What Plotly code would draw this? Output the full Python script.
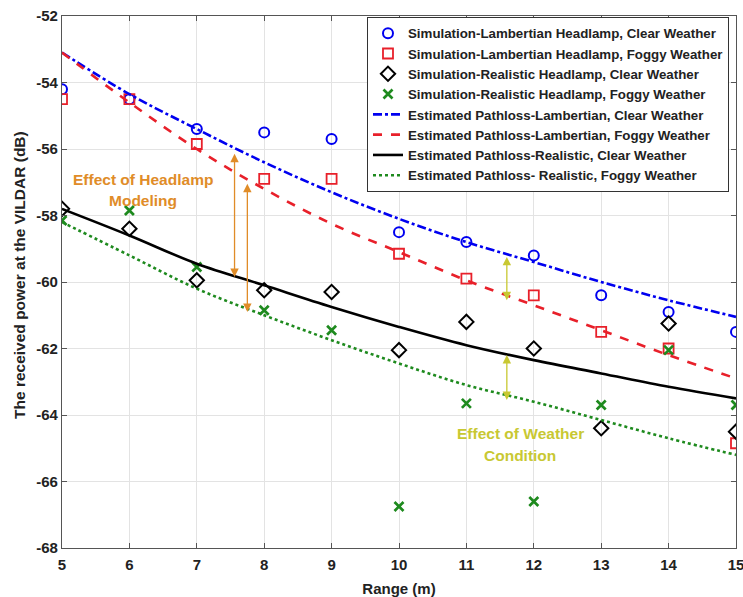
import plotly.graph_objects as go

rng = [5, 6, 7, 8, 9, 10, 11, 12, 13, 14, 15]

sim_lamb_clear = [-54.2, -54.5, -55.4, -55.5, -55.7, -58.5, -58.8, -59.2, -60.4, -60.9, -61.5]
sim_lamb_fog = [-54.5, -54.5, -55.85, -56.9, -56.9, -59.15, -59.9, -60.4, -61.5, -62.0, -64.85]
sim_real_clear = [-57.8, -58.4, -59.95, -60.25, -60.3, -62.05, -61.2, -62.0, -64.4, -61.25, -64.5]
sim_real_fog = [-58.15, -57.85, -59.55, -60.85, -61.45, -66.75, -63.65, -66.6, -63.7, -62.05, -63.7]

est_lamb_clear = [-53.1, -54.35, -55.4, -56.4, -57.3, -58.1, -58.8, -59.4, -60.0, -60.55, -61.05]
est_lamb_fog = [-53.1, -54.6, -56.0, -57.2, -58.25, -59.1, -59.95, -60.7, -61.45, -62.2, -62.9]
est_real_clear = [-57.8, -58.6, -59.45, -60.1, -60.75, -61.35, -61.9, -62.35, -62.75, -63.15, -63.5]
est_real_fog = [-58.2, -59.2, -60.2, -61.0, -61.75, -62.45, -63.1, -63.6, -64.15, -64.7, -65.2]

x_ticks = [5, 6, 7, 8, 9, 10, 11, 12, 13, 14, 15]
y_ticks = [-68, -66, -64, -62, -60, -58, -56, -54, -52]

FONT = "Liberation Sans, Arial, sans-serif"

fig = go.Figure()

fig.add_trace(go.Scatter(x=rng, y=sim_lamb_clear, mode="markers",
                         name="<b>Simulation-Lambertian Headlamp, Clear Weather</b>",
                         marker=dict(symbol="circle-open", size=10, color="#0000F0",
                                     line=dict(width=2, color="#0000F0"))))
fig.add_trace(go.Scatter(x=rng, y=sim_lamb_fog, mode="markers",
                         name="<b>Simulation-Lambertian Headlamp, Foggy Weather</b>",
                         marker=dict(symbol="square-open", size=10, color="#E8202A",
                                     line=dict(width=1.8, color="#E8202A"))))
fig.add_trace(go.Scatter(x=rng, y=sim_real_clear, mode="markers",
                         name="<b>Simulation-Realistic Headlamp, Clear Weather</b>",
                         marker=dict(symbol="diamond-open", size=11, color="black",
                                     line=dict(width=2, color="black"))))
fig.add_trace(go.Scatter(x=rng, y=sim_real_fog, mode="markers",
                         name="<b>Simulation-Realistic Headlamp, Foggy Weather</b>",
                         marker=dict(symbol="x-thin-open", size=9, color="#1E8A1E",
                                     line=dict(width=2.7, color="#1E8A1E"))))

fig.add_trace(go.Scatter(x=rng, y=est_lamb_clear, mode="lines", line_shape="spline",
                         name="<b>Estimated Pathloss-Lambertian, Clear Weather</b>",
                         line=dict(color="#0000F0", width=2.6, dash="dashdot")))
fig.add_trace(go.Scatter(x=rng, y=est_lamb_fog, mode="lines", line_shape="spline",
                         name="<b>Estimated Pathloss-Lambertian, Foggy Weather</b>",
                         line=dict(color="#E8202A", width=2.6, dash="dash")))
fig.add_trace(go.Scatter(x=rng, y=est_real_clear, mode="lines", line_shape="spline",
                         name="<b>Estimated Pathloss-Realistic, Clear Weather</b>",
                         line=dict(color="black", width=2.6)))
fig.add_trace(go.Scatter(x=rng, y=est_real_fog, mode="lines", line_shape="spline",
                         name="<b>Estimated Pathloss- Realistic, Foggy Weather</b>",
                         line=dict(color="#1E8A1E", width=2.6, dash="dot")))

orange = "#E08C28"
olive = "#C8C832"

arrows = [
    (7.56, -56.1, -59.85, orange),
    (7.75, -57.0, -60.9, orange),
    (11.6, -59.2, -60.55, olive),
    (11.6, -62.15, -63.55, olive),
]
for ax_, y0, y1, col in arrows:
    fig.add_annotation(x=ax_, y=y1, ax=ax_, ay=y0, xref="x", yref="y",
                       axref="x", ayref="y", text="", showarrow=True,
                       arrowhead=2, startarrowhead=2, arrowside="end+start",
                       arrowwidth=1.3, arrowsize=1.3, startarrowsize=1.3,
                       arrowcolor=col)

labels = [
    ("Effect of Headlamp", 6.2, -56.93, orange),
    ("Modeling", 6.2, -57.55, orange),
    ("Effect of Weather", 11.8, -64.55, olive),
    ("Condition", 11.8, -65.22, olive),
]
for txt, lx, ly, col in labels:
    fig.add_annotation(x=lx, y=ly, xref="x", yref="y", showarrow=False,
                       text=f"<b>{txt}</b>",
                       font=dict(family=FONT, size=15.5, color=col), align="center")

# y-axis title as rotated text
fig.add_annotation(x=-0.064, y=0.513, xref="paper", yref="paper", showarrow=False,
                   text="<b>The received power at the VILDAR (dB)</b>", textangle=-90,
                   xanchor="center", yanchor="middle",
                   font=dict(family=FONT, size=15.5, color="#222222"))

axis_common = dict(showgrid=True, gridcolor="#E3E3E3", gridwidth=1,
                   showline=True, linecolor="#555555", linewidth=1.2, mirror="ticks",
                   ticks="inside", ticklen=5, tickcolor="#555555",
                   tickfont=dict(family=FONT, size=15, color="#222222"),
                   zeroline=False, automargin=False)

fig.update_xaxes(range=[5, 15], tickvals=x_ticks, ticktext=[f"<b>{v}</b>" for v in x_ticks],
                 ticklabeloverflow="allow", ticklabelstandoff=3,
                 title=dict(text="<b>Range (m)</b>", font=dict(family=FONT, size=15, color="#222222"),
                            standoff=12),
                 **axis_common)
fig.update_yaxes(range=[-68, -52], tickvals=y_ticks, ticktext=[f"<b>{v}</b>" for v in y_ticks],
                 **axis_common)

fig.update_layout(
    width=743, height=597,
    margin=dict(l=62, r=7, t=16, b=49),
    plot_bgcolor="white", paper_bgcolor="white",
    font=dict(family=FONT, size=12, color="#222222"),
    legend=dict(x=0.9896, y=0.998, xanchor="right", yanchor="top",
                bgcolor="white", bordercolor="#333333", borderwidth=1,
                font=dict(family=FONT, size=13.3, color="#222222"),
                tracegroupgap=0, itemwidth=30),
)

fig.write_html("out.html")
